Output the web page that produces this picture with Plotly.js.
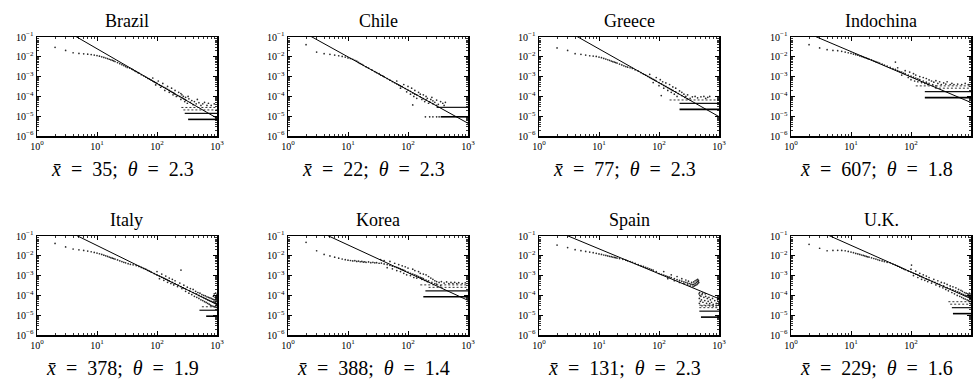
<!DOCTYPE html>
<html>
<head>
<meta charset="utf-8">
<script src="https://cdn.plot.ly/plotly-3.0.1.min.js"></script>
<style>
  html, body { margin: 0; padding: 0; background: #fff; }
  #chart { width: 974px; height: 379px; }
</style>
</head>
<body>
<div id="chart"></div>
<script>
// Panel labels and fitted parameters shown under each panel
const countries = ['Brazil', 'Chile', 'Greece', 'Indochina', 'Italy', 'Korea', 'Spain', 'U.K.'];
const meanSize = [35, 22, 77, 607, 378, 388, 131, 229];
const theta = [2.3, 2.3, 2.3, 1.8, 1.9, 1.4, 2.3, 1.6];

// Straight power-law reference line: its value at x = 1 and at x = 1000
const fitAt1 = [1.46, 0.469, 1.29, 0.356, 1.02, 0.89, 0.41, 0.754];
const fitAt1000 = [7.9e-6, 4.4e-6, 9.5e-6, 4.9e-5, 3.5e-5, 5.6e-5, 6.8e-5, 6.8e-5];

// Empirical frequencies [size, frequency]
const brazilPts = [[2,0.030],[3,0.021],[4,0.016],[5,0.0148],[6,0.0142],[7,0.0136],[8,0.013],[9,0.0122],[10,0.0115],[11,0.0107],[12,0.0100],[13,0.0093],[14,0.0087],[15,0.0081],[16,0.0075],[17,0.0070],[18,0.0066],[19,0.0062],[20,0.0058],[22,0.0051],[24,0.0045],[26,0.0040],[28,0.0036],[30,0.0032],[32,0.0029],
  [35,0.0027],[38,0.0024],[40,0.0022],[43,0.0019],[45,0.0018],[48,0.0016],[50,0.0015],[55,0.00125],[60,0.0011],[65,0.00095],[70,0.00082],[75,0.00074],[80,0.00066],[85,0.0006],[90,0.00054],[95,0.0005],[100,0.00045],[110,0.00038],[120,0.00033],[130,0.00029],[140,0.00026],[150,0.00023],[160,0.0002],[170,0.00018],[180,0.00016],[190,0.00015],[200,0.00013],[220,0.00011],[240,0.0001],[260,8.8e-5],[280,7.6e-5],[300,6.6e-5],
  [85,0.00085],[95,0.00038],[105,0.0006],[115,0.00029],[125,0.00045],[135,0.0002],[150,0.00032],[160,0.00016],[175,0.00026],[185,0.00012],[200,0.0002],[210,0.0001],[230,0.00016],[250,7e-5],[250,0.00014],[260,0.00012],[275,0.0001],[290,5.5e-5],[300,9e-5],[320,4.5e-5],[330,0.0001],[340,7.5e-5],[360,5e-5],[380,6.2e-5],[400,3.8e-5],[420,5.5e-5],[450,4.2e-5],[470,7e-5],[500,4.8e-5],[540,3.5e-5],[580,4.2e-5],[620,5e-5],[680,3.5e-5],[720,4.5e-5],[800,3.5e-5],[900,4.2e-5]];

const chilePts = [[2,0.041],[3,0.0174],[4,0.0144],[5,0.0133],[6,0.0122],[7,0.0113],[8,0.0105],[9,0.0097],[10,0.0088],[11,0.0082],[12,0.0075],[13,0.0067],[14,0.006],[15,0.0052],[16,0.0046],[17,0.0042],[18,0.0037],
  [20,0.0031],[22,0.0027],[25,0.0022],[28,0.0018],[30,0.0016],[33,0.0014],[35,0.0012],[38,0.0011],[40,0.00097],[45,0.0008],[50,0.00066],[55,0.00056],[60,0.00049],[65,0.00043],[70,0.00038],[75,0.00034],[80,0.00031],[90,0.00025],[100,0.00021],[110,0.00018],[120,0.00015],[130,0.00013],[140,0.00012],[160,9.5e-5],[180,7.8e-5],[200,6.6e-5],[230,5.3e-5],[260,4.3e-5],
  [65,0.0006],[75,0.00026],[85,0.0004],[95,0.00017],[100,0.00032],[110,0.00013],[115,0.00026],[120,3.7e-5],[125,0.0001],[130,0.0002],[140,8e-5],[150,0.00016],[160,0.00013],[170,7e-5],[180,0.00012],[190,5.5e-5],[200,0.0001],[210,8e-5],[220,4.5e-5],[240,7e-5],[250,9e-5],[260,6e-5],[280,5e-5],[300,6.5e-5],[300,3.5e-5],[320,4e-5],[350,5.5e-5],[380,4.5e-5],[400,3.5e-5],[420,5e-5],[195,9.3e-6],[230,9.3e-6],[260,9.3e-6],[300,9.3e-6],[330,9.3e-6]];

const greecePts = [[2,0.028],[3,0.021],[4,0.0144],[5,0.0133],[6,0.0122],[7,0.0113],[8,0.0109],[9,0.0105],[10,0.0097],[11,0.009],[12,0.0083],[13,0.0077],[14,0.0071],[15,0.0066],[16,0.0061],[17,0.0057],[18,0.0054],[19,0.0051],[20,0.0048],[22,0.0043],[24,0.0039],[26,0.0035],[28,0.0032],[30,0.003],[33,0.0028],
  [36,0.0026],[40,0.0022],[45,0.0019],[50,0.0016],[55,0.00135],[60,0.00118],[65,0.00103],[70,0.00091],[75,0.00081],[80,0.00073],[85,0.00066],[90,0.0006],[100,0.0005],[110,0.00043],[120,0.00036],[130,0.00032],[140,0.00028],[150,0.00025],[160,0.00022],[170,0.0002],[190,0.00017],[210,0.00014],[240,0.00011],[270,9e-5],[300,7.6e-5],
  [70,0.0013],[80,0.0005],[90,0.0009],[100,0.00035],[105,0.0007],[109,0.00011],[115,0.00055],[120,0.00026],[130,0.00048],[140,0.0002],[150,0.0004],[160,0.00016],[170,0.0003],[180,0.00013],[190,0.00026],[200,0.0001],[220,0.00019],[240,0.00016],[260,0.00013],[280,0.0001],[300,0.00012],[330,8e-5],[360,9.5e-5],[400,0.0001],[440,8.5e-5],[500,9.5e-5],[560,0.0001],[600,8e-5],[650,9e-5],[700,0.0001]];

const indochinaPts = [[2,0.041],[3,0.028],[4,0.023],[5,0.021],[6,0.0203],[7,0.0188],[8,0.0174],[9,0.016],[10,0.0149],[11,0.0138],[12,0.0128],[13,0.012],[14,0.011],[15,0.0104],[16,0.0097],[17,0.0091],[18,0.0086],[19,0.0081],[20,0.0077],
  [22,0.007],[24,0.0063],[26,0.0057],[28,0.0053],[30,0.0048],[33,0.0043],[36,0.0038],[40,0.0034],[45,0.0029],[50,0.0025],[55,0.0023],[60,0.002],[65,0.0018],[70,0.0017],[75,0.0015],[80,0.0014],[90,0.0012],[100,0.00105],[110,0.00093],[120,0.00084],[130,0.00076],[140,0.0007],[160,0.0006],[180,0.00052],[200,0.00046],[230,0.0004],[260,0.00034],
  [55,0.0054],[60,0.0028],[70,0.0012],[80,0.002],[90,0.0009],[95,0.0017],[100,0.0007],[110,0.0014],[115,0.0006],[120,0.0012],[130,0.00055],[140,0.001],[150,0.0005],[160,0.0009],[170,0.00045],[180,0.0008],[190,0.0004],[200,0.00068],[220,0.0006],[240,0.00052],[260,0.00062],[280,0.00045],[300,0.00055],[320,0.0004],[350,0.00048],[380,0.00042],[400,0.00055],[450,0.0004],[480,0.00046],[520,0.0004],[600,0.00042],[700,0.0004],[800,0.00045],[900,0.0004]];

const italyPts = [[2,0.042],[3,0.028],[4,0.022],[5,0.02],[6,0.0187],[7,0.0173],[8,0.016],[9,0.0148],[10,0.0137],[11,0.0127],[12,0.0117],[13,0.0108],[14,0.01],[15,0.0093],[16,0.0086],[17,0.008],[18,0.0076],[19,0.0072],[20,0.0068],[22,0.0062],[24,0.0056],[26,0.0051],[28,0.0047],[30,0.0044],[33,0.004],[36,0.0037],[40,0.0035],
  [45,0.0032],[50,0.0029],[55,0.0026],[60,0.0023],[65,0.0021],[70,0.00185],[75,0.0017],[80,0.0015],[90,0.00127],[100,0.00108],[110,0.00095],[120,0.00083],[130,0.00074],[140,0.00066],[150,0.0006],[160,0.00054],[180,0.00045],[200,0.00039],[225,0.00033],[250,0.00028],[275,0.00024],[300,0.00021],[350,0.00017],[400,0.00014],[450,0.00012],[500,0.0001],[550,8.8e-5],[600,7.6e-5],[650,6.8e-5],[700,6e-5],[750,5.5e-5],[800,5e-5],[850,4.6e-5],[900,4.2e-5],[950,3.9e-5],[1000,3.6e-5],
  [100,0.0016],[110,0.0007],[120,0.0012],[130,0.00058],[140,0.00095],[150,0.00046],[160,0.00075],[170,0.0004],[180,0.00065],[190,0.00034],[200,0.00055],[220,0.00028],[240,0.00042],[251,0.0019],[260,0.00022],[280,0.00033],[300,0.00016],[320,0.00026],[340,0.00013],[360,0.00022],[380,0.00011],[400,0.0002],[420,9e-5],[440,0.00016],[460,8e-5],[480,0.00014],[500,7e-5],[520,0.00013],[540,6e-5],[560,0.00011],[580,5.5e-5],[600,0.0001],[620,4.8e-5],[640,9.5e-5],[660,4.4e-5],[680,8.5e-5],[700,4e-5],[720,8e-5],[740,3.6e-5],[760,7.5e-5],[780,3.2e-5],[800,7e-5],[820,3e-5],[840,6.5e-5],[860,2.8e-5],[870,9e-5],[880,6.2e-5],[890,5e-5],[900,2.7e-5],[900,0.00012],[920,6e-5],[930,8e-5],[940,2.6e-5],[950,4.5e-5],[950,0.00013],[960,5.8e-5],[970,3.2e-5],[980,2.5e-5],[980,9.5e-5],[990,7.5e-5],[1000,5.5e-5],[1000,0.00011]];

const koreaPts = [[2,0.048],[3,0.018],[4,0.0117],[5,0.0098],[6,0.0085],[7,0.0076],[8,0.0069],[9,0.0064],[10,0.006],[11,0.0058],[12,0.0055],[13,0.0057],[14,0.0052],[15,0.0054],[16,0.005],[17,0.0052],[18,0.0048],[19,0.005],[20,0.0047],[22,0.0049],[24,0.0045],[26,0.0047],[28,0.0044],[30,0.0045],[33,0.0042],[36,0.0043],[40,0.0039],[45,0.0036],[50,0.0033],[55,0.003],
  [60,0.0028],[65,0.0026],[70,0.0024],[75,0.0022],[80,0.002],[85,0.0019],[90,0.0017],[100,0.0015],[110,0.0013],[120,0.0012],[130,0.0011],[140,0.00099],[150,0.0009],[160,0.00082],[170,0.00076],[180,0.0007],[200,0.0006],[220,0.00054],[250,0.00046],[280,0.0004],[300,0.00037],[350,0.00031],
  [35,0.0065],[40,0.0058],[45,0.0025],[50,0.0052],[55,0.0022],[60,0.0042],[65,0.0018],[70,0.0036],[75,0.0016],[80,0.0031],[85,0.0013],[90,0.0028],[95,0.0011],[100,0.0024],[110,0.001],[120,0.0021],[125,0.0008],[130,0.0018],[140,0.00075],[150,0.0016],[160,0.0013],[170,0.00065],[180,0.0012],[190,0.00058],[200,0.0011],[210,0.0005],[220,0.0009],[240,0.00075],[260,0.00065],[280,0.00055],[300,0.0005],[330,0.00045],[360,0.0005],[400,0.00042],[440,0.00048],[480,0.0004],[520,0.00045],[560,0.0004],[600,0.00046],[650,0.0004],[700,0.00044],[800,0.0004],[900,0.00043]];

const spainPts = [[2,0.035],[3,0.026],[4,0.0203],[5,0.0182],[6,0.0167],[7,0.0155],[8,0.0144],[9,0.0133],[10,0.0124],[11,0.0117],[12,0.011],[13,0.0104],[14,0.0099],[15,0.0094],[16,0.009],[17,0.0086],[18,0.0083],[19,0.008],[20,0.0077],[22,0.0072],[25,0.0066],[28,0.006],
  [30,0.0056],[33,0.0051],[36,0.0047],[40,0.0041],[45,0.0036],[50,0.0032],[55,0.0029],[60,0.0026],[65,0.0024],[70,0.0022],[75,0.002],[80,0.0019],[90,0.0016],[100,0.00128],[110,0.00116],[120,0.00106],[130,0.00098],[140,0.0009],[150,0.00085],[160,0.0008],[180,0.0007],[200,0.00062],[220,0.00057],[240,0.00052],[260,0.00048],[280,0.00045],[300,0.00042],[320,0.0004],[340,0.00037],[360,0.00035],[380,0.00036],[400,0.0004],[420,0.00045],[440,0.0005],[450,0.00052],
  [120,0.0016],[140,0.0007],[160,0.0011],[180,0.00055],[200,0.0009],[220,0.00045],[240,0.0007],[260,0.0004],[280,0.0006],[300,0.00034],[310,0.00052],[330,0.0003],[350,0.00045],[370,0.00028],[380,0.00048],[390,0.0003],[400,0.00055],[410,0.00033],[420,0.0006],[430,0.00036],[440,0.00065],[445,0.0004],[455,0.00058],[460,0.00045],
  [465,0.00012],[470,7e-5],[470,4e-5],[475,0.00014],[480,0.0001],[490,5e-5],[500,9e-5],[510,6e-5],[520,0.00011],[520,3e-5],[530,0.00013],[540,4.5e-5],[560,8e-5],[580,5.5e-5],[590,0.00012],[600,9e-5],[600,3e-5],[620,4e-5],[640,7e-5],[660,5e-5],[680,8e-5],[700,3.8e-5],[700,3e-5],[720,6e-5],[750,4.5e-5],[780,7e-5],[800,3.5e-5],[800,2.9e-5],[850,5.5e-5],[900,4e-5],[900,3e-5],[950,6e-5],[1000,3.5e-5],[1000,4.5e-5]];

const ukPts = [[2,0.038],[3,0.024],[4,0.018],[5,0.0186],[6,0.019],[7,0.0186],[8,0.018],[9,0.0166],[10,0.0154],[11,0.0143],[12,0.0132],[13,0.0124],[14,0.0117],[15,0.011],[16,0.0104],[17,0.0098],[18,0.0093],[19,0.0089],[20,0.0086],[22,0.0079],[24,0.0073],[26,0.0068],[28,0.0063],[30,0.0059],[33,0.0055],[36,0.0051],[40,0.0047],
  [45,0.0044],[50,0.0038],[55,0.0034],[60,0.003],[65,0.0027],[70,0.0024],[75,0.0022],[80,0.002],[90,0.0017],[100,0.0015],[110,0.0013],[120,0.0012],[130,0.0011],[140,0.00095],[150,0.00088],[160,0.0008],[180,0.00068],[200,0.0006],[225,0.00051],[250,0.00045],[275,0.0004],[300,0.00036],[350,0.0003],[400,0.00025],[450,0.00022],[500,0.00019],[550,0.00017],[600,0.00015],[650,0.00014],[700,0.00012],[750,0.00011],[800,0.0001],[850,9.5e-5],[900,9e-5],[950,8.5e-5],[1000,8e-5],
  [102,0.0034],[100,0.0021],[110,0.001],[120,0.0017],[130,0.0008],[140,0.0013],[150,0.00065],[160,0.0011],[170,0.00058],[180,0.00095],[190,0.0005],[200,0.0008],[220,0.00042],[240,0.00065],[260,0.00034],[280,0.00055],[300,0.00028],[320,0.00045],[340,0.00024],[360,0.00042],[380,0.0002],[400,0.00036],[420,0.00017],[450,0.0003],[480,0.00014],[500,0.00027],[530,0.00012],[560,0.00024],[590,0.0001],[620,0.0002],[650,9e-5],[680,0.00018],[700,8e-5],[720,0.00016],[750,7e-5],[780,0.00014],[800,6.5e-5],[830,0.00013],[860,6e-5],[880,0.00012],[900,5.5e-5],[920,0.00011],[940,0.00013],[950,5e-5],[970,0.0001],[980,7e-5],[1000,5e-5],[1000,0.00012]];

// Runs of equal frequency in the tail (1, 2, 3, ... occurrences): [frequency, first size]
const brazilBands = [[6.9e-6, 330], [1.38e-5, 290], [2.07e-5, 275], [2.76e-5, 255]];
const chileBands = [[9.3e-6, 350], [2.8e-5, 300]];
const greeceBands = [[2.2e-5, 220], [4.4e-5, 220], [6.6e-5, 150]];
const indochinaBands = [[8.7e-5, 170], [1.74e-4, 170], [2.6e-4, 250], [3.4e-4, 120]];
const italyBands = [[8.9e-6, 660], [1.78e-5, 510], [2.67e-5, 560]];
const koreaBands = [[8.5e-5, 180], [1.7e-4, 195], [2.55e-4, 220], [3.4e-4, 160]];
const spainBands = [[8e-6, 500], [1.6e-5, 470], [2.4e-5, 470], [3.2e-5, 470]];
const ukBands = [[1.2e-5, 500], [2.4e-5, 480], [3.6e-5, 450], [4.8e-5, 420]];

const pointSets = [brazilPts, chilePts, greecePts, indochinaPts, italyPts, koreaPts, spainPts, ukPts];
const bandSets = [brazilBands, chileBands, greeceBands, indochinaBands, italyBands, koreaBands, spainBands, ukBands];

const xTickVals = [1, 10, 100, 1000];
const xTickText = ['10<sup>0</sup>', '10<sup>1</sup>', '10<sup>2</sup>', '10<sup>3</sup>'];
const yTickVals = [1e-6, 1e-5, 1e-4, 1e-3, 1e-2, 1e-1];
const yTickText = ['10<sup>\u22126</sup>', '10<sup>\u22125</sup>', '10<sup>\u22124</sup>', '10<sup>\u22123</sup>', '10<sup>\u22122</sup>', '10<sup>\u22121</sup>'];

// ---- layout geometry (pixels of a 974 x 379 canvas) ----
const W = 974, H = 379;
const colLeft = [37, 288, 539, 791];
const plotW = 180;
const rowTop = [37, 236];
const plotH = 99;
const serif = '"Liberation Serif", "DejaVu Serif", serif';

function minorVals(lo, hi) {
  const v = [];
  for (let e = lo; e < hi; e++) for (let k = 2; k <= 9; k++) v.push(k * Math.pow(10, e));
  return v;
}

const traces = [];
const layout = {
  width: W, height: H,
  margin: {l: 0, r: 0, t: 0, b: 0},
  paper_bgcolor: '#fff', plot_bgcolor: '#fff',
  showlegend: false,
  font: {family: serif, color: '#000'},
  annotations: []
};

countries.forEach((name, i) => {
  const row = Math.floor(i / 4), col = i % 4;
  const n = i + 1;
  const xa = n === 1 ? 'x' : 'x' + n;
  const ya = n === 1 ? 'y' : 'y' + n;
  const x0 = colLeft[col], x1 = x0 + plotW;
  const top = rowTop[row], bot = top + plotH;

  const axisCommon = {
    type: 'log', showgrid: false, zeroline: false,
    showline: true, linecolor: '#000', linewidth: 1.5, mirror: 'ticks',
    ticks: 'inside', ticklen: 4, tickwidth: 1, tickcolor: '#000',
    tickmode: 'array', fixedrange: true,
    tickfont: {family: serif, size: 10, color: '#000'}
  };
  layout['xaxis' + (n === 1 ? '' : n)] = Object.assign({}, axisCommon, {
    domain: [x0 / W, x1 / W], anchor: ya, range: [0, 3],
    tickvals: xTickVals, ticktext: xTickText,
    minor: {ticks: 'inside', ticklen: 2, tickwidth: 0.8, tickcolor: '#000', tickmode: 'array', tickvals: minorVals(0, 3)}
  });
  layout['yaxis' + (n === 1 ? '' : n)] = Object.assign({}, axisCommon, {
    domain: [(H - bot) / H, (H - top) / H], anchor: xa, range: [-6, -1],
    tickvals: yTickVals, ticktext: yTickText,
    minor: {ticks: 'inside', ticklen: 2, tickwidth: 0.8, tickcolor: '#000', tickmode: 'array', tickvals: minorVals(-6, -1)}
  });

  // observed frequencies
  const pts = pointSets[i];
  traces.push({
    type: 'scatter', mode: 'markers', xaxis: xa, yaxis: ya,
    x: pts.map(p => p[0]), y: pts.map(p => p[1]),
    marker: {size: 1.7, color: '#2a2a2a'}, hoverinfo: 'skip'
  });

  // tail runs of equal frequency
  bandSets[i].forEach((b, k) => {
    const style = k === 0 ? {width: 1.6, color: '#000'}
                : k === 1 ? {width: 1.2, color: '#111'}
                : {width: 1, color: '#333', dash: '2px,2px'};
    traces.push({
      type: 'scatter', mode: 'lines', xaxis: xa, yaxis: ya,
      x: [b[1], 1000], y: [b[0], b[0]], line: style, hoverinfo: 'skip'
    });
  });

  // power-law reference line
  traces.push({
    type: 'scatter', mode: 'lines', xaxis: xa, yaxis: ya,
    x: [1, 1000], y: [fitAt1[i], fitAt1000[i]],
    line: {color: '#000', width: 1}, hoverinfo: 'skip'
  });

  const cx = (x0 + x1) / 2;
  layout.annotations.push({
    xref: 'paper', yref: 'paper', x: cx / W, y: (H - (top - 16)) / H,
    xanchor: 'center', yanchor: 'middle', showarrow: false,
    text: name, font: {family: serif, size: 18, color: '#000'}
  });
  const sp = '\u2002';
  layout.annotations.push({
    xref: 'paper', yref: 'paper', x: (cx - 5) / W, y: (H - (bot + 33)) / H,
    xanchor: 'center', yanchor: 'middle', showarrow: false,
    text: '<i>x\u0304</i>' + sp + '=' + sp + meanSize[i] + ';' + sp + '<i>\u03b8</i>' + sp + '=' + sp + theta[i].toFixed(1),
    font: {family: serif, size: 20, color: '#000'}
  });
});

Plotly.newPlot('chart', traces, layout, {staticPlot: true, displayModeBar: false});
</script>
</body>
</html>
